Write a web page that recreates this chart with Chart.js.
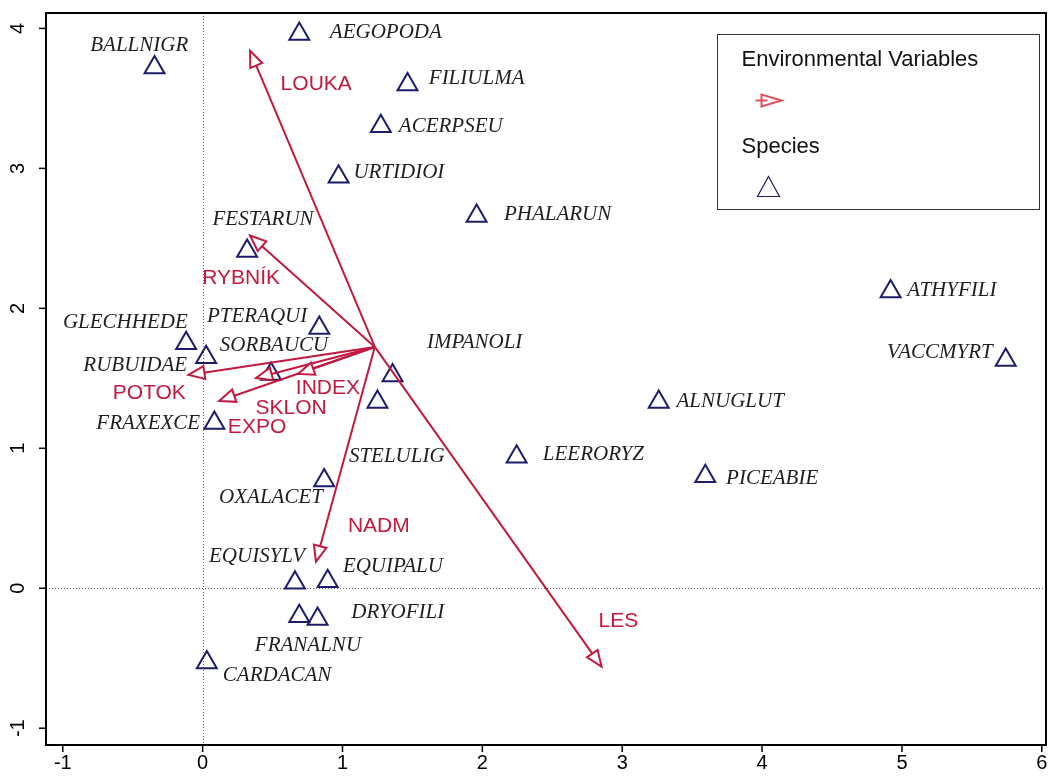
<!DOCTYPE html>
<html>
<head>
<meta charset="utf-8">
<script src="https://cdn.jsdelivr.net/npm/chart.js@4.4.1/dist/chart.umd.min.js"></script>
<style>
  html, body { margin: 0; padding: 0; background: #fff; overflow: hidden; }
  #wrap { width: 1049px; height: 781px; }
  canvas { display: block; }
</style>
</head>
<body>
<div id="wrap"><canvas id="ord"></canvas></div>
<script>
// Species scores (triangles) and where their names sit
const speciesNames = ["AEGOPODA", "BALLNIGR", "FILIULMA", "ACERPSEU", "URTIDIOI", "PHALARUN",
  "FESTARUN", "ATHYFILI", "PTERAQUI", "GLECHHEDE", "SORBAUCU", "VACCMYRT", "IMPANOLI",
  "RUBUIDAE", "STELULIG", "ALNUGLUT", "FRAXEXCE", "LEERORYZ", "PICEABIE", "OXALACET",
  "EQUISYLV", "EQUIPALU", "FRANALNU", "DRYOFILI", "CARDACAN"];
const speciesX = [0.691, -0.344, 1.465, 1.274, 0.972, 1.959, 0.318, 4.919, 0.834, -0.118,
  0.025, 5.742, 1.358, 0.489, 1.25, 3.261, 0.084, 2.245, 3.594, 0.869, 0.66, 0.894, 0.691,
  0.822, 0.03];
const speciesY = [3.96, 3.72, 3.6, 3.3, 2.94, 2.66, 2.41, 2.12, 1.86, 1.75, 1.65, 1.63, 1.52,
  1.53, 1.33, 1.33, 1.18, 0.94, 0.8, 0.77, 0.04, 0.05, -0.2, -0.22, -0.53];
const speciesLabelX = [1.31, -0.453, 1.959, 1.774, 1.403, 2.538, 0.432, 5.357, 0.389, -0.553,
  0.51, 5.271, 1.945, -0.482, 1.388, 3.772, -0.389, 2.794, 4.072, 0.489, 0.389, 1.36, 0.753,
  1.395, 0.532];
const speciesLabelY = [3.974, 3.88, 3.645, 3.302, 2.974, 2.674, 2.638, 2.124, 1.945, 1.902,
  1.731, 1.688, 1.759, 1.588, 0.938, 1.331, 1.174, 0.959, 0.781, 0.652, 0.224, 0.159, -0.412,
  -0.176, -0.626];

// Environmental vectors: common start point, arrow tips, label anchors
const envOriginX = 1.231;
const envOriginY = 1.724;
const envNames = ["LOUKA", "RYBNÍK", "POTOK", "EXPO", "INDEX", "SKLON", "NADM", "LES"];
const envX = [0.339, 0.339, -0.101, 0.382, 0.682, 0.118, 0.81, 2.852];
const envY = [3.84, 2.52, 1.524, 1.502, 1.531, 1.338, 0.19, -0.56];
const envLabelX = [0.812, 0.275, -0.382, 0.389, 0.896, 0.632, 1.26, 2.973];
const envLabelY = [3.602, 2.216, 1.395, 1.152, 1.431, 1.288, 0.445, -0.234];

// Axes
const xTicks = [-1, 0, 1, 2, 3, 4, 5, 6];
const yTicks = [-1, 0, 1, 2, 3, 4];

const ENV_RED = "#c2193f";
const SP_BLUE = "#1c1c6a";
const SANS = "'Liberation Sans', Arial, sans-serif";
const SERIF = "'Liberation Serif', 'Times New Roman', serif";

const datasets = [];
envNames.forEach((name, i) => {
  datasets.push({
    label: name,
    arrow: true,
    data: [{ x: envOriginX, y: envOriginY }, { x: envX[i], y: envY[i] }],
    showLine: true,
    borderColor: ENV_RED,
    borderWidth: 2,
    pointRadius: 0,
  });
});
datasets.push({
  label: "Species",
  data: speciesX.map((v, i) => ({ x: v, y: speciesY[i] })),
  pointStyle: "triangle",
  pointRadius: 11.5,
  borderColor: SP_BLUE,
  backgroundColor: "rgba(0,0,0,0)",
  borderWidth: 2,
});

function headPath(ctx, tx, ty, ang, len, half) {
  const c = Math.cos(ang), s = Math.sin(ang);
  const bx = tx - len * c, by = ty - len * s;
  ctx.beginPath();
  ctx.moveTo(tx, ty);
  ctx.lineTo(bx - half * s, by + half * c);
  ctx.lineTo(bx + half * s, by - half * c);
  ctx.closePath();
}

// frame, zero lines, ticks, arrowheads, labels and the legend box
const biplotDecor = {
  id: "biplotDecor",
  beforeDatasetsDraw(chart) {
    const { ctx, chartArea: a, scales: { x, y } } = chart;
    ctx.save();
    ctx.strokeStyle = "#666";
    ctx.lineWidth = 1;
    ctx.setLineDash([1, 2]);
    const x0 = Math.round(x.getPixelForValue(0)) + 0.5;
    const y0 = Math.round(y.getPixelForValue(0)) + 0.5;
    ctx.beginPath();
    ctx.moveTo(x0, a.top);
    ctx.lineTo(x0, a.bottom);
    ctx.moveTo(a.left, y0);
    ctx.lineTo(a.right, y0);
    ctx.stroke();
    ctx.restore();
  },
  afterDatasetsDraw(chart) {
    const { ctx, scales: { x, y } } = chart;
    ctx.save();
    // arrowheads
    chart.data.datasets.forEach((ds, i) => {
      if (!ds.arrow) return;
      const pts = chart.getDatasetMeta(i).data;
      const p0 = pts[0], p1 = pts[1];
      const ang = Math.atan2(p1.y - p0.y, p1.x - p0.x);
      headPath(ctx, p1.x, p1.y, ang, 16, 6.5);
      ctx.fillStyle = "#fff";
      ctx.fill();
      ctx.strokeStyle = ENV_RED;
      ctx.lineWidth = 2;
      ctx.stroke();
    });
    ctx.textAlign = "center";
    ctx.textBaseline = "middle";
    // species names
    ctx.fillStyle = "#1e1e1e";
    ctx.font = "italic 21px " + SERIF;
    speciesNames.forEach((n, i) => {
      ctx.fillText(n, x.getPixelForValue(speciesLabelX[i]), y.getPixelForValue(speciesLabelY[i]));
    });
    // variable names
    ctx.fillStyle = ENV_RED;
    ctx.font = "21px " + SANS;
    envNames.forEach((n, i) => {
      ctx.fillText(n, x.getPixelForValue(envLabelX[i]), y.getPixelForValue(envLabelY[i]));
    });
    ctx.restore();
  },
  afterDraw(chart) {
    const { ctx, chartArea: a, scales: { x, y } } = chart;
    ctx.save();
    ctx.strokeStyle = "#000";
    ctx.lineWidth = 2;
    ctx.strokeRect(a.left, a.top, a.right - a.left, a.bottom - a.top);

    // tick marks and labels
    ctx.lineWidth = 1.5;
    ctx.fillStyle = "#000";
    ctx.font = "20px " + SANS;
    ctx.textAlign = "center";
    ctx.textBaseline = "middle";
    xTicks.forEach(t => {
      const px = x.getPixelForValue(t);
      ctx.beginPath();
      ctx.moveTo(px, a.bottom);
      ctx.lineTo(px, a.bottom + 7);
      ctx.stroke();
      ctx.fillText(String(t), px, a.bottom + 18);
    });
    yTicks.forEach(t => {
      const py = y.getPixelForValue(t);
      ctx.beginPath();
      ctx.moveTo(a.left, py);
      ctx.lineTo(a.left - 7, py);
      ctx.stroke();
      ctx.save();
      ctx.translate(a.left - 28, py);
      ctx.rotate(-Math.PI / 2);
      ctx.fillText(String(t), 0, 0);
      ctx.restore();
    });

    // legend
    const lx = 717.5, ly = 34.5, lw = 322, lh = 175;
    ctx.fillStyle = "#fff";
    ctx.fillRect(lx, ly, lw, lh);
    ctx.strokeStyle = "#333";
    ctx.lineWidth = 1;
    ctx.strokeRect(lx, ly, lw, lh);
    ctx.fillStyle = "#111";
    ctx.textAlign = "left";
    ctx.font = "22px " + SANS;
    ctx.fillText("Environmental Variables", lx + 24, ly + 25);
    ctx.fillText("Species", lx + 24, ly + 112);
    ctx.strokeStyle = "#e0505c";
    ctx.lineWidth = 2;
    ctx.beginPath();
    ctx.moveTo(lx + 38, ly + 66);
    ctx.lineTo(lx + 50, ly + 66);
    ctx.stroke();
    headPath(ctx, lx + 64, ly + 66, 0, 20, 6);
    ctx.stroke();
    ctx.strokeStyle = SP_BLUE;
    ctx.lineWidth = 1.2;
    ctx.beginPath();
    ctx.moveTo(lx + 51, ly + 142);
    ctx.lineTo(lx + 62, ly + 162);
    ctx.lineTo(lx + 40, ly + 162);
    ctx.closePath();
    ctx.stroke();
    ctx.restore();
  }
};

new Chart(document.getElementById("ord"), {
  type: "scatter",
  data: { datasets },
  options: {
    responsive: true,
    maintainAspectRatio: false,
    animation: false,
    layout: { autoPadding: false, padding: { left: 46, top: 13, right: 3, bottom: 36 } },
    plugins: { legend: { display: false }, tooltip: { enabled: false } },
    scales: {
      x: { type: "linear", min: -1.12, max: 6.03, display: false },
      y: { type: "linear", min: -1.12, max: 4.11, display: false },
    },
  },
  plugins: [biplotDecor],
});
</script>
</body>
</html>
